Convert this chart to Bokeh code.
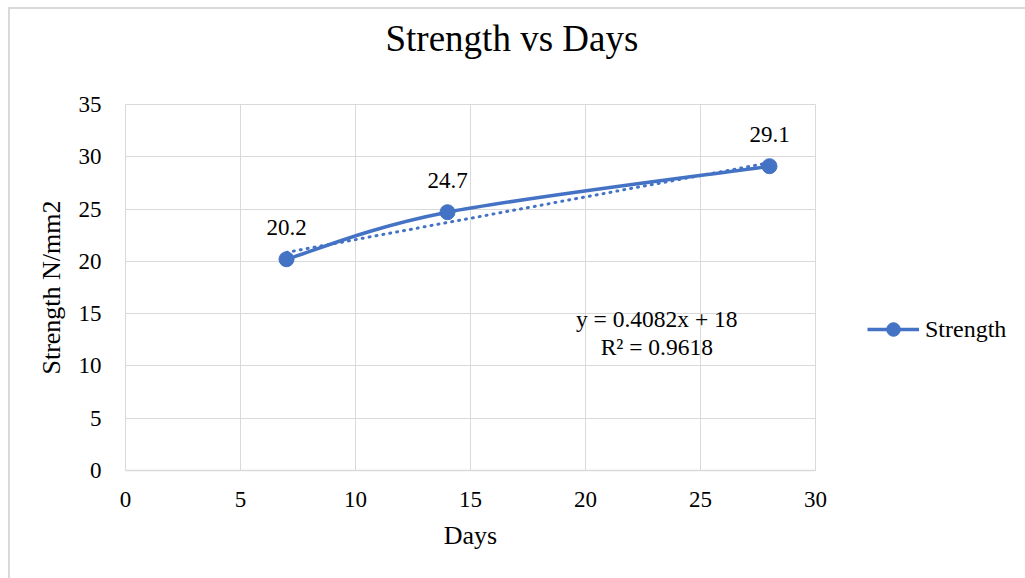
import numpy as np
from bokeh.plotting import figure
from bokeh.layouts import row
from bokeh.models import Legend, LegendItem, FixedTicker
from bokeh.core.properties import value
from bokeh.embed import file_html
from bokeh.resources import INLINE

# Compressive strength at curing age
days = [7, 14, 28]
strength = [20.2, 24.7, 29.1]
value_labels = [f"{v:.1f}" for v in strength]

x_ticks = [0, 5, 10, 15, 20, 25, 30]
y_ticks = [0, 5, 10, 15, 20, 25, 30, 35]

# Where the trendline equation is written (data units)
eq_x = 23.1
eq_y = [14.45, 11.85]

FONT = "Liberation Serif"
BLUE = "#4472C4"
GRID = "#d9d9d9"

# Linear trendline by least squares
xs = np.array(days, dtype=float)
ys = np.array(strength, dtype=float)
slope, intercept = np.polyfit(xs, ys, 1)
pred = slope * xs + intercept
r2 = 1 - np.sum((ys - pred) ** 2) / np.sum((ys - ys.mean()) ** 2)
eq_text = [f"y = {slope:.4f}x + {intercept:.0f}", f"R\u00b2 = {r2:.4f}"]

# Smoothed series: cubic Bezier segments with Catmull-Rom tangents
pts = np.column_stack([xs, ys])
padded = np.vstack([pts[0], pts, pts[-1]])
x0s, y0s, x1s, y1s, cx0, cy0, cx1, cy1 = ([] for _ in range(8))
for i in range(len(pts) - 1):
    p_prev, p0, p1, p_next = padded[i], padded[i + 1], padded[i + 2], padded[i + 3]
    c0 = p0 + (p1 - p_prev) / 6.0
    c1 = p1 - (p_next - p0) / 6.0
    x0s.append(p0[0]); y0s.append(p0[1])
    x1s.append(p1[0]); y1s.append(p1[1])
    cx0.append(c0[0]); cy0.append(c0[1])
    cx1.append(c1[0]); cy1.append(c1[1])

# ---- main chart ----
p = figure(
    width=830, height=569,
    x_range=(0, 30), y_range=(0, 35),
    output_backend="svg", toolbar_location=None,
    min_border_left=115, min_border_right=25,
    min_border_top=95, min_border_bottom=108,
)
p.background_fill_color = "white"
p.border_fill_color = "white"
p.outline_line_color = GRID
p.outline_line_width = 1

# trailing blank line lifts the title clear of the plot area
p.title.text = "Strength vs Days\n"
p.title.align = "left"
p.title.offset = 260
p.title.text_font = FONT
p.title.text_font_size = "37px"
p.title.text_line_height = 1.1
p.title.text_font_style = "normal"
p.title.text_color = "#000000"
p.title.standoff = 0

for ax in (p.xaxis, p.yaxis):
    ax.major_tick_line_color = None
    ax.minor_tick_line_color = None
    ax.major_label_text_font = FONT
    ax.major_label_text_font_size = "23px"
    ax.major_label_text_color = "#000000"
    ax.axis_label_text_font = FONT
    ax.axis_label_text_font_size = "26px"
    ax.axis_label_text_font_style = "normal"
    ax.axis_label_text_color = "#000000"

p.xaxis.ticker = FixedTicker(ticks=x_ticks)
p.yaxis.ticker = FixedTicker(ticks=y_ticks)
p.xaxis.axis_label = "Days"
p.yaxis.axis_label = "Strength N/mm2"
p.xaxis.axis_line_color = GRID
p.xaxis.axis_line_width = 1.5
p.yaxis.axis_line_color = None
p.xaxis.major_label_standoff = 15
p.yaxis.major_label_standoff = 18
p.xaxis.axis_label_standoff = 11
p.yaxis.axis_label_standoff = 10

p.xgrid.ticker = FixedTicker(ticks=x_ticks)
p.ygrid.ticker = FixedTicker(ticks=y_ticks)
p.grid.grid_line_color = GRID
p.grid.grid_line_width = 1

# Trendline
p.line(x=[xs[0], xs[-1]], y=[pred[0], pred[-1]],
       line_color=BLUE, line_width=3, line_dash="1 6", line_cap="round")

# Smoothed series line and markers
p.bezier(x0=x0s, y0=y0s, x1=x1s, y1=y1s, cx0=cx0, cy0=cy0, cx1=cx1, cy1=cy1,
         line_color=BLUE, line_width=3.5)
p.scatter(x=days, y=strength, size=15, marker="circle",
          fill_color=BLUE, line_color=BLUE)

# Data labels above each point
p.text(x=days, y=strength, text=value_labels, y_offset=-32,
       text_align="center", text_baseline="middle",
       text_font=value(FONT), text_font_size="23px", text_color="#000000")

# Trendline equation
p.text(x=[eq_x, eq_x], y=eq_y, text=eq_text,
       text_align="center", text_baseline="middle",
       text_font=value(FONT), text_font_size="23.5px", text_color="#000000")

# ---- legend panel to the right of the chart ----
# Its ranges sit away from the series, so the key renderers only feed the legend.
lg = figure(
    width=185, height=569, x_range=(100, 101), y_range=(100, 101),
    output_backend="svg", toolbar_location=None,
    x_axis_location=None, y_axis_location=None, min_border=0,
)
lg.outline_line_color = None
lg.grid.visible = False
lg.background_fill_color = "white"
lg.border_fill_color = "white"
key_line = lg.line(x=days, y=strength, line_color=BLUE, line_width=3.5)
key_mark = lg.scatter(x=days, y=strength, size=15, marker="circle",
                      fill_color=BLUE, line_color=BLUE)

legend = Legend(items=[LegendItem(label="Strength", renderers=[key_line, key_mark])],
                location=(27, 124))
legend.border_line_color = None
legend.background_fill_alpha = 0
legend.padding = 0
legend.margin = 0
legend.glyph_width = 52
legend.glyph_height = 34
legend.label_height = 34
legend.label_standoff = 6
legend.label_text_font = FONT
legend.label_text_font_size = "24px"
legend.label_text_color = "#000000"
lg.add_layout(legend, "center")

chart = row(p, lg)
chart.margin = (7, 0, 0, 8)
chart.styles = {
    "border-left": f"2px solid {GRID}",
    "border-top": f"2px solid {GRID}",
    "box-sizing": "border-box",
}

open("out.html", "w").write(file_html(chart, INLINE))
